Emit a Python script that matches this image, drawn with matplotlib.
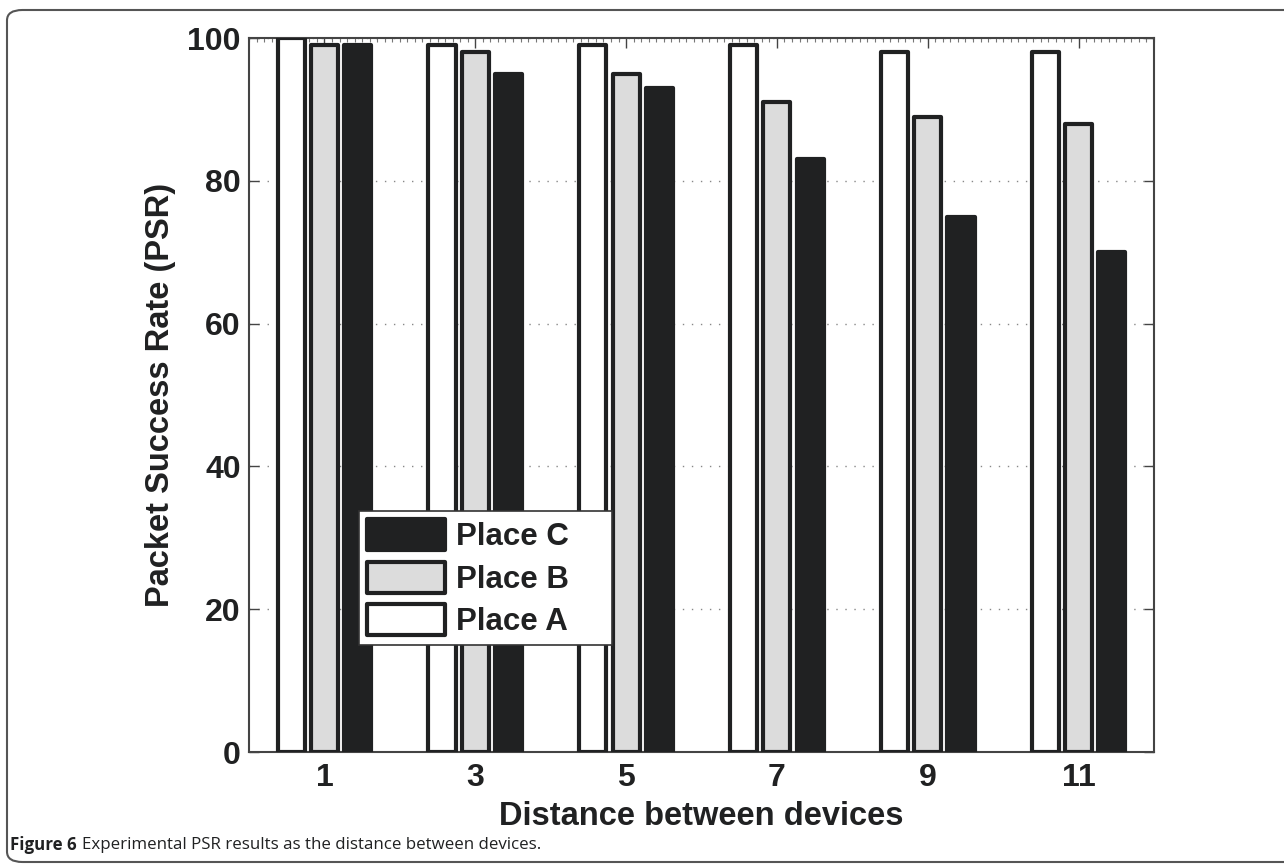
import numpy as np
import matplotlib
matplotlib.use("Agg")
import matplotlib.pyplot as plt
from matplotlib.patches import FancyBboxPatch
from matplotlib.ticker import MultipleLocator

# 数据：不同距离下三个地点的包成功率
distances = [1, 3, 5, 7, 9, 11]
place_a = [100, 99, 99, 99, 98, 98]
place_b = [99, 98, 95, 91, 89, 88]
place_c = [99, 95, 93, 83, 75, 70]
series_names = ["Place A", "Place B", "Place C"]

dark = "#202122"
face_colors = ["white", "#dcdcdc", dark]

plt.rcParams['font.family'] = ['Liberation Sans', 'DejaVu Sans']

fig = plt.figure(figsize=(12.84, 8.66), dpi=100)

# 外框（圆角）
border = FancyBboxPatch((7 / 1284, 4 / 866), 1.05, 852 / 866,
                        boxstyle="round,pad=0,rounding_size=0.012",
                        transform=fig.transFigure, fill=False,
                        edgecolor="#555555", linewidth=1.5, clip_on=False)
fig.patches.append(border)

ax = fig.add_axes([249 / 1284, 1 - 752 / 866, 905 / 1284, 714 / 866])

x = np.array(distances, dtype=float)
step = 0.44
width = 0.36
handles = []
for i, (vals, name) in enumerate(zip([place_a, place_b, place_c], series_names)):
    b = ax.bar(x + (i - 1) * step, vals, width, color=face_colors[i],
               edgecolor=dark, linewidth=3.0, label=name, zorder=3)
    for p in b:
        p.set_joinstyle("round")
    handles.append(b)

ax.set_xlim(0, 12)
ax.set_ylim(0, 100)
ax.set_xticks(distances)
ax.set_yticks([0, 20, 40, 60, 80, 100])
ax.xaxis.set_minor_locator(MultipleLocator(0.1))
ax.tick_params(which="major", direction="in", length=7, width=1,
               top=True, right=True, labelsize=23, color="#444444")
ax.tick_params(axis="x", which="major", pad=8)
ax.tick_params(axis="y", which="major", pad=6)
ax.tick_params(which="minor", direction="in", length=3, width=0.8,
               top=True, bottom=False, color="#777777")
for lab in ax.get_xticklabels() + ax.get_yticklabels():
    lab.set_fontweight("bold")
    lab.set_color(dark)

ax.yaxis.grid(True, linestyle=(0, (1, 5.5)), color="#888888", linewidth=1.0, zorder=0)
for s in ax.spines.values():
    s.set_color("#444444")
    s.set_linewidth(1.5)

ax.set_xlabel("Distance between devices", fontsize=23.5, fontweight="bold",
              color=dark, labelpad=6)
ax.set_ylabel("Packet Success Rate (PSR)", fontsize=23.5, fontweight="bold",
              color=dark, labelpad=8)

leg = ax.legend(handles[::-1], series_names[::-1], loc="lower left",
                bbox_to_anchor=(110 / 905, 107 / 714, 253 / 905, 138 / 714),
                mode="expand",
                prop={"weight": "bold", "size": 22.5},
                handlelength=2.5, handleheight=1.15, labelspacing=0.3,
                handletextpad=0.35, borderpad=0.25, borderaxespad=0,
                fancybox=False, framealpha=1, edgecolor="#333333")
leg.get_frame().set_linewidth(1.2)
for t in leg.get_texts():
    t.set_color(dark)
for h in leg.legend_handles:
    h.set_joinstyle("round")

fig_lbl = fig.text(10 / 1284, 1 - 845 / 866, "Figure 6", fontsize=12.2,
                   fontweight="bold", family=["Open Sans", "DejaVu Sans"],
                   color=dark, va="center")
ax.annotate("Experimental PSR results as the distance between devices.",
            xy=(1, 0.5), xycoords=fig_lbl, xytext=(4, 0),
            textcoords="offset points", fontsize=12.2,
            family=["Open Sans", "DejaVu Sans"], color=dark,
            va="center", ha="left", annotation_clip=False)

fig.savefig("out.png", dpi=100)
